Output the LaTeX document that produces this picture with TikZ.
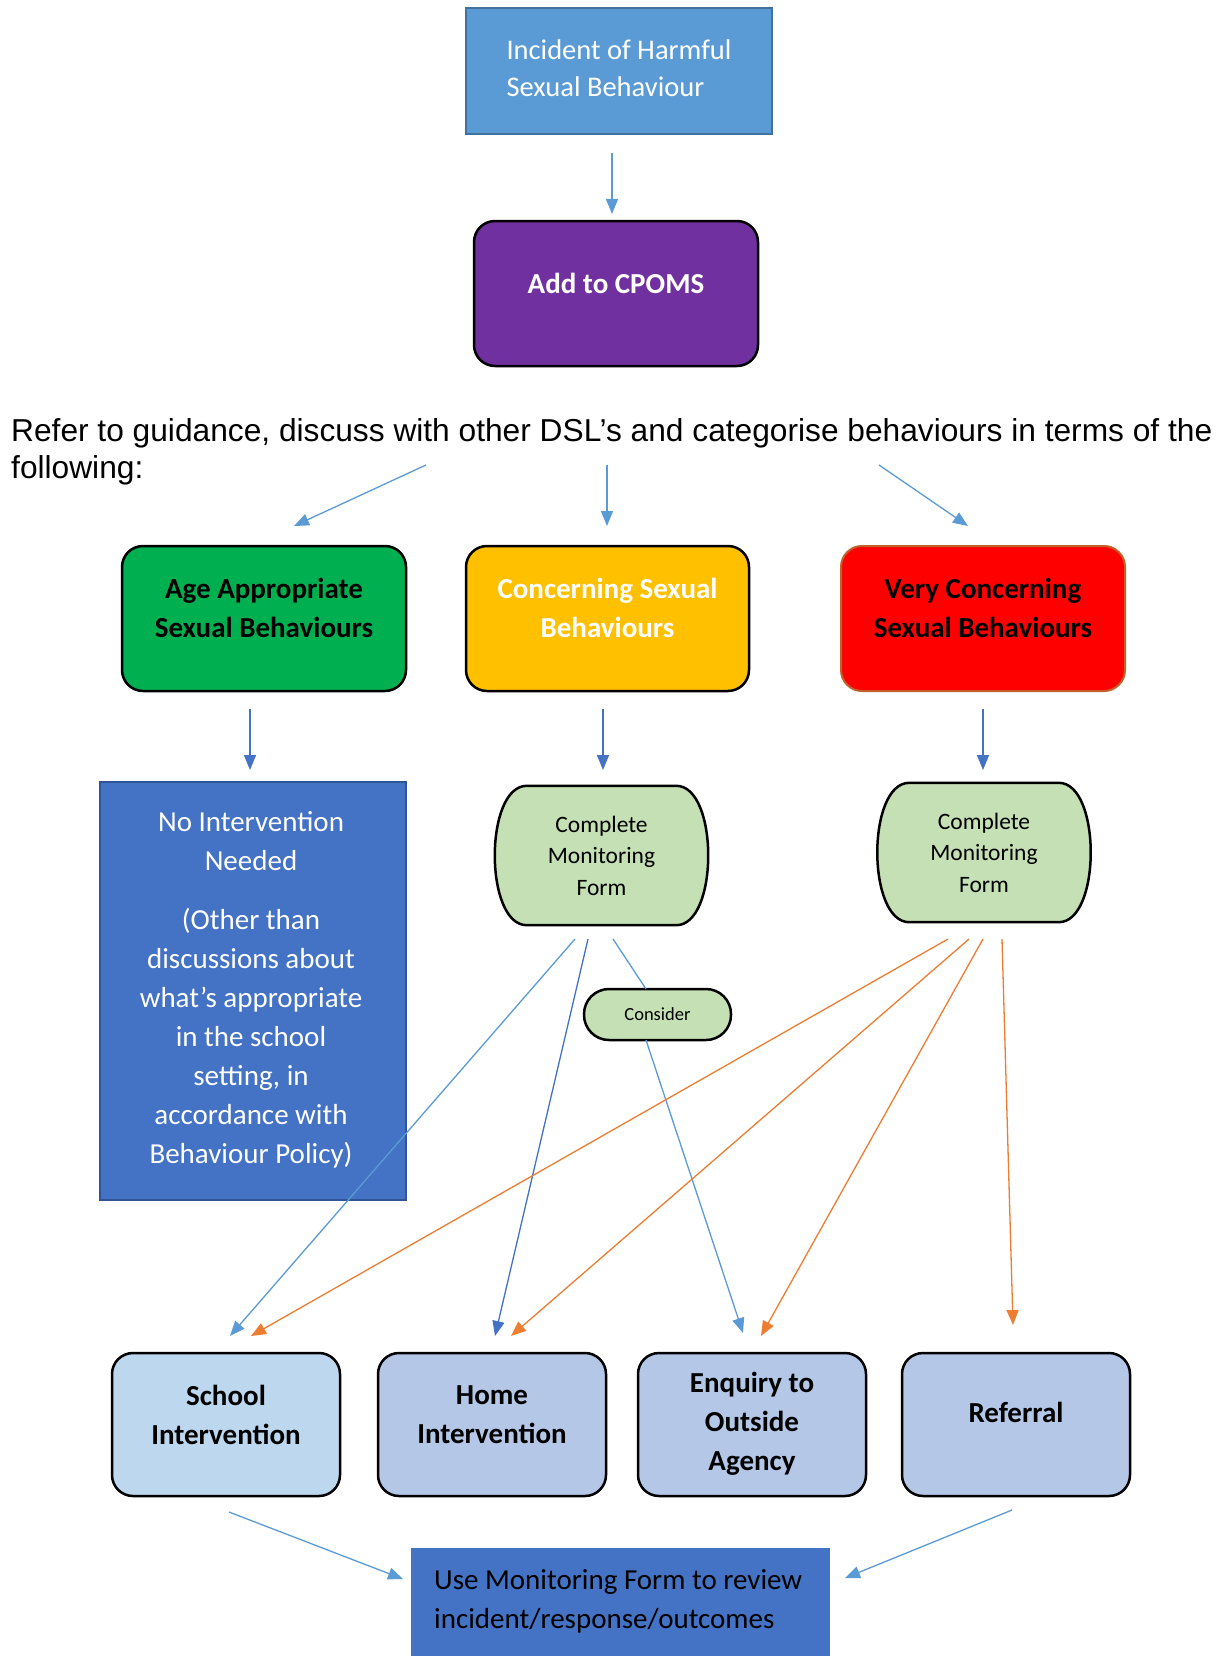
\documentclass[tikz,border=0pt]{standalone}
\usepackage{fontspec}
\setmainfont{Carlito}
\newfontfamily\arialf{Liberation Sans}
\usetikzlibrary{arrows.meta,backgrounds}
\definecolor{cInc}{HTML}{5B9BD5}
\definecolor{cIncB}{HTML}{41719C}
\definecolor{cPur}{HTML}{7030A0}
\definecolor{cGreen}{HTML}{00B050}
\definecolor{cAmber}{HTML}{FFC000}
\definecolor{cRed}{HTML}{FF0000}
\definecolor{cRedB}{HTML}{C0622A}
\definecolor{cDark}{HTML}{4472C4}
\definecolor{cDarkB}{HTML}{2F5597}
\definecolor{cMint}{HTML}{C5E0B4}
\definecolor{cSky}{HTML}{BDD7EE}
\definecolor{cLav}{HTML}{B4C7E7}
\definecolor{cOrange}{HTML}{ED7D31}
\begin{document}
\begin{tikzpicture}[x=1pt,y=-1pt,
  rbox/.style={draw=black, line width=2.5pt, rounded corners=21pt, inner sep=0pt, align=center},
  mon/.style={inner sep=0pt, align=center,
    minimum width=149pt, minimum height=139pt, font=\fontsize{23.5}{31.5}\selectfont},
  monshape/.style={draw=black, line width=2.5pt, fill=cMint},
  bigb/.style={font=\fontsize{29}{39}\selectfont\bfseries},
  arrL/.style={draw=cInc, line width=1.3pt, -{Triangle[length=15pt,width=12pt]}},
  arrD/.style={draw=cDark, line width=1.3pt, -{Triangle[length=15pt,width=12pt]}},
  arrO/.style={draw=cOrange, line width=1.3pt, -{Triangle[length=15pt,width=12pt]}},
]
\useasboundingbox (0,0) rectangle (1226,1656);
\begin{scope}[on background layer]
\fill[white] (0,0) rectangle (1226,1656);
\end{scope}

% top
\node[draw=cIncB, line width=2pt, fill=cInc, minimum width=306pt, minimum height=126pt, inner sep=0pt,
  align=left, text=white, font=\fontsize{28.5}{37}\selectfont, text depth=6pt] (inc) at (619,71) {Incident of Harmful\\Sexual Behaviour};
\node[rbox, fill=cPur, minimum width=284pt, minimum height=145pt, text=white, bigb, text depth=20pt] (cpoms) at (616,293.5) {Add to CPOMS};

\node[anchor=north west, align=left, inner sep=0pt, font=\arialf\fontsize{31.7}{37}\selectfont] (refer) at (11,418) {Refer to guidance, discuss with other DSL’s and categorise behaviours in terms of the\\following:};

% categories
\node[rbox, fill=cGreen, minimum width=284pt, minimum height=145pt, bigb, text depth=22pt] (age) at (264,618.5) {Age Appropriate\\Sexual Behaviours};
\node[rbox, fill=cAmber, minimum width=283pt, minimum height=145pt, bigb, text=white, text depth=22pt] (conc) at (607.5,618.5) {Concerning Sexual\\Behaviours};
\node[rbox, draw=cRedB, line width=2pt, fill=cRed, minimum width=284pt, minimum height=145pt, bigb, text depth=22pt] (vconc) at (983,618.5) {Very Concerning\\Sexual Behaviours};

% second level
\node[draw=cDarkB, line width=2pt, fill=cDark, minimum width=306pt, minimum height=418pt, inner sep=0pt] (noint) at (253,991) {};
\node[anchor=north, align=center, text=white, inner sep=0pt, font=\fontsize{29}{39}\selectfont] (nointt) at (251,811)
  {No Intervention\\Needed\\[20pt](Other than\\discussions about\\what’s appropriate\\in the school\\setting, in\\accordance with\\Behaviour Policy)};
\node[mon] (cmf1) at (601.5,855.5) {Complete\\Monitoring\\Form};
\node[mon] (cmf2) at (984,852.5) {Complete\\Monitoring\\Form};
\begin{scope}[on background layer]
\path[monshape] (cmf1.north west) -- (cmf1.north east) .. controls +(42.7,0) and +(42.7,0) .. (cmf1.south east)
  -- (cmf1.south west) .. controls +(-42.7,0) and +(-42.7,0) .. (cmf1.north west) -- cycle;
\path[monshape] (cmf2.north west) -- (cmf2.north east) .. controls +(42.7,0) and +(42.7,0) .. (cmf2.south east)
  -- (cmf2.south west) .. controls +(-42.7,0) and +(-42.7,0) .. (cmf2.north west) -- cycle;
\end{scope}
\node[draw=black, line width=2.5pt, fill=cMint, rounded corners=25pt, minimum width=147pt, minimum height=51pt, inner sep=0pt,
  font=\fontsize{18.5}{22}\selectfont] (cons) at (657.5,1014.5) {Consider};

% bottom boxes
\node[rbox, fill=cSky, minimum width=228pt, minimum height=143pt, bigb, text depth=20pt] (school) at (226,1424.5) {School\\Intervention};
\node[rbox, fill=cLav, minimum width=228pt, minimum height=143pt, bigb, text depth=20pt] (home) at (492,1424.5) {Home\\Intervention};
\node[rbox, fill=cLav, minimum width=228pt, minimum height=143pt, bigb, text depth=6pt] (enq) at (752,1424.5) {Enquiry to\\Outside\\Agency};
\node[rbox, fill=cLav, minimum width=228pt, minimum height=143pt, bigb, text depth=24pt] (ref) at (1016,1424.5) {Referral};

\node[fill=cDark, minimum width=419pt, minimum height=130pt, inner sep=0pt] (use) at (620.5,1613) {};
\node[anchor=west, align=left, inner sep=0pt, font=\fontsize{29}{39}\selectfont] (uset) at (434,1601) {Use Monitoring Form to review\\incident/response/outcomes};

% connector end points
\coordinate (a0s) at (612,153); \coordinate (a0e) at (612,214);
\coordinate (r1s) at (426,465); \coordinate (r1e) at (294,526);
\coordinate (r2s) at (607,465); \coordinate (r2e) at (607,526);
\coordinate (r3s) at (879,465); \coordinate (r3e) at (968,526);
\coordinate (d1s) at (250,709); \coordinate (d1e) at (250,770);
\coordinate (d2s) at (603,709); \coordinate (d2e) at (603,770);
\coordinate (d3s) at (983,709); \coordinate (d3e) at (983,770);
\coordinate (m1a) at (575,939); \coordinate (m1b) at (588,939); \coordinate (m1c) at (613,939);
\coordinate (sE) at (230,1336); \coordinate (hE) at (495,1336);
\coordinate (cT) at (646,989); \coordinate (cB) at (646,1040); \coordinate (eE) at (743,1333);
\coordinate (m2a) at (948,939); \coordinate (m2b) at (969,939); \coordinate (m2c) at (983,939); \coordinate (m2d) at (1002,939);
\coordinate (sE2) at (251,1336); \coordinate (hE2) at (511,1336); \coordinate (eE2) at (761,1336); \coordinate (rE) at (1013,1325);
\coordinate (b1s) at (229,1512); \coordinate (b1e) at (403,1579);
\coordinate (b2s) at (1012,1510); \coordinate (b2e) at (845,1578);

\draw[arrL] (a0s) -- (a0e);
\draw[arrL] (r1s) -- (r1e);
\draw[arrL] (r2s) -- (r2e);
\draw[arrL] (r3s) -- (r3e);
\draw[arrD] (d1s) -- (d1e);
\draw[arrD] (d2s) -- (d2e);
\draw[arrD] (d3s) -- (d3e);
\draw[arrL] (m1a) -- (sE);
\draw[arrD] (m1b) -- (hE);
\draw[draw=cInc, line width=1.3pt] (m1c) -- (cT);
\draw[arrL] (cB) -- (eE);
\draw[arrO] (m2a) -- (sE2);
\draw[arrO] (m2b) -- (hE2);
\draw[arrO] (m2c) -- (eE2);
\draw[arrO] (m2d) -- (rE);
\draw[arrL] (b1s) -- (b1e);
\draw[arrL] (b2s) -- (b2e);
\end{tikzpicture}
\end{document}
